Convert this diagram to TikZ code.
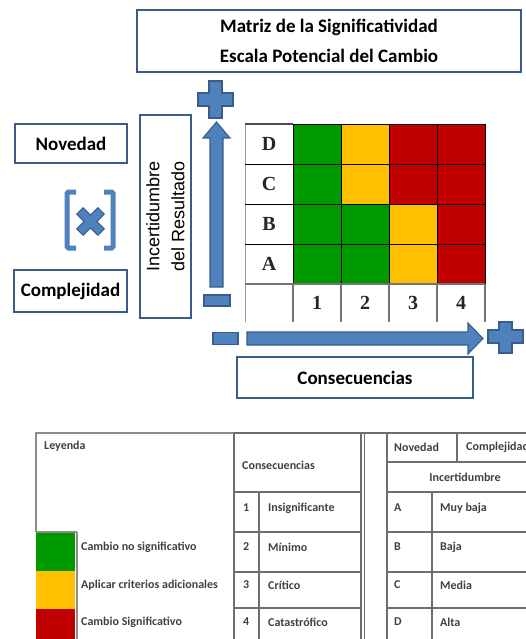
\documentclass[tikz,border=0pt]{standalone}
\usepackage{fontspec}
\setmainfont{Carlito}
\newfontfamily\axisfont{Liberation Sans}
\newfontfamily\gridfont{Liberation Serif}
\definecolor{boxblue}{RGB}{56,93,138}
\definecolor{shapeblue}{RGB}{79,129,189}
\definecolor{cgreen}{RGB}{0,153,0}
\definecolor{cyellow}{RGB}{255,192,0}
\definecolor{cred}{RGB}{192,0,0}
\definecolor{tblgray}{RGB}{110,110,110}

\begin{document}
\begin{tikzpicture}[x=1pt,y=-1pt,
  labelbox/.style={draw=boxblue, line width=2.6pt, fill=white, inner sep=0pt,
    font=\bfseries\fontsize{19}{30}\selectfont},
  blockshape/.style={fill=shapeblue, draw=boxblue, line width=1.1pt, line join=miter},
  cell/.style={minimum width=48pt, minimum height=40pt, inner sep=0pt, draw=black, line width=0.9pt},
  gridlabel/.style={inner sep=0pt, font=\gridfont\bfseries\fontsize{20}{22}\selectfont, text=black!85},
  tbl/.style={draw=tblgray, line width=1.5pt},
  tbltext/.style={inner sep=0pt, anchor=west, font=\bfseries\fontsize{12}{14}\selectfont, text=black!75},
]
\useasboundingbox (0,0) rectangle (526,639);
\clip (0,0) rectangle (526,639);

% ---------- title and side labels ----------
\node[labelbox, minimum width=384pt, minimum height=62pt, align=center]
  (title) at (329,41) {Matriz de la Significatividad\\Escala Potencial del Cambio};
\node[labelbox, minimum width=112pt, minimum height=39pt] (novedad) at (71,143.5) {Novedad};
\node[labelbox, minimum width=113pt, minimum height=42pt] (complejidad) at (70.5,291) {Complejidad};
\node[labelbox, minimum width=203pt, minimum height=51pt, rotate=90, align=center,
  font=\axisfont\fontsize{18}{25}\selectfont] (incert) at (165.5,216.5)
  {Incertidumbre\\del Resultado};
\node[labelbox, minimum width=236pt, minimum height=41pt] (conseq) at (355,377.5) {Consecuencias};

% ---------- bracketed multiplication sign ----------
\draw[shapeblue, line width=5pt, rounded corners=1.5pt]
  (76,192) -- (67,192) -- (67,248) -- (76,248);
\draw[shapeblue, line width=5pt, rounded corners=1.5pt]
  (104,192) -- (113,192) -- (113,248) -- (104,248);
\begin{scope}[shift={(90.5,221.5)}, rotate=45]
  \draw[blockshape] (-4.5,-15) -- (4.5,-15) -- (4.5,-4.5) -- (15,-4.5) -- (15,4.5) -- (4.5,4.5)
    -- (4.5,15) -- (-4.5,15) -- (-4.5,4.5) -- (-15,4.5) -- (-15,-4.5) -- (-4.5,-4.5) -- cycle;
\end{scope}

% ---------- axis arrows with plus and minus signs ----------
\draw[blockshape] (210,287) -- (210,138) -- (203,138) -- (216.5,122) -- (230,138)
  -- (223,138) -- (223,287) -- cycle;
\draw[blockshape] (247,332) -- (468,332) -- (468,323) -- (483,338.5) -- (468,354)
  -- (468,345) -- (247,345) -- cycle;
\draw[blockshape] (204,295) rectangle (230,306);
\draw[blockshape] (213,332.5) rectangle (238,344.5);
% plus signs
\draw[blockshape] (209,81) -- (222,81) -- (222,93) -- (233,93) -- (233,106) -- (222,106)
  -- (222,118) -- (209,118) -- (209,106) -- (198,106) -- (198,93) -- (209,93) -- cycle;
\draw[blockshape] (499,322) -- (512,322) -- (512,330) -- (523,330) -- (523,343) -- (512,343)
  -- (512,353) -- (499,353) -- (499,343) -- (488,343) -- (488,330) -- (499,330) -- cycle;

% ---------- significance matrix ----------
\foreach \r/\lab/\ca/\cb/\cc/\cd [count=\i from 0] in
    {D/D/cgreen/cyellow/cred/cred, C/C/cgreen/cyellow/cred/cred,
     B/B/cgreen/cgreen/cyellow/cred, A/A/cgreen/cgreen/cyellow/cred}{
  \node[gridlabel] (row-\r) at (269,144+40*\i) {\lab};
  \foreach \col/\c in {1/\ca, 2/\cb, 3/\cc, 4/\cd}{
    \node[cell, fill=\c] (m-\r-\col) at (269+48*\col,144+40*\i) {};
  }
}
\foreach \col in {1,2,3,4}{
  \node[gridlabel] (num-\col) at (269+48*\col,303) {\col};
}
% label column and number row borders
\draw[black!40, line width=0.6pt] (245,124) -- (245,322);
\draw[black!70, line width=1.2pt] (245,124) -- (293,124);
\foreach \yy in {164,204,244}{ \draw[black, line width=0.9pt] (245,\yy) -- (293,\yy); }
\draw[black!55, line width=1.6pt] (245,284) -- (485,284);
\foreach \xx in {293,341,389,437,485}{ \draw[black!55, line width=1.8pt] (\xx,284) -- (\xx,322); }

% ---------- legend table ----------
\fill[cgreen] (36,532) rectangle (75,571);
\fill[cyellow] (36,571) rectangle (75,609);
\fill[cred] (36,609) rectangle (75,639);
\draw[tbl, draw=black!45] (36,532) -- (36,433) -- (234,433);
\draw[tbl, draw=black!45] (36,532) -- (77,532);
\draw[tbl, draw=black!45] (77,532) -- (77,639);
\node[tbltext] (leyenda) at (44,446) {Leyenda};
\node[tbltext] (ley-g) at (81,547) {Cambio no significativo};
\node[tbltext] (ley-y) at (81,585) {Aplicar criterios adicionales};
\node[tbltext] (ley-r) at (81,622) {Cambio Significativo};

% ---------- consequence table ----------
\draw[tbl] (234,433) -- (526,433);
\draw[tbl] (234,433) -- (234,639);
\draw[tbl] (361,433) -- (361,639);
\draw[tbl] (364.5,433) -- (364.5,639);
\draw[tbl] (387,433) -- (387,639);
\foreach \yy in {492,532,572,608}{ \draw[tbl] (234,\yy) -- (361,\yy); }
\draw[tbl] (259,492) -- (259,639);
\node[tbltext] (c-head) at (242,465) {Consecuencias};
\foreach \n/\t/\yy in {1/Insignificante/508, 2/Mínimo/547, 3/Crítico/585, 4/Catastrófico/622}{
  \node[tbltext] (c-num-\n) at (243,\yy) {\n};
  \node[tbltext] (c-txt-\n) at (268,\yy) {\t};
}

% ---------- uncertainty table ----------
\draw[tbl] (457,433) -- (457,462);
\draw[tbl] (387,462) -- (526,462);
\foreach \yy in {492,532,572,608}{ \draw[tbl] (387,\yy) -- (526,\yy); }
\draw[tbl] (432,492) -- (432,639);
\node[tbltext] (u-nov) at (394,447) {Novedad};
\node[tbltext] (u-comp) at (466,447) {Complejidad};
\node[tbltext, anchor=center] (u-head) at (465,477) {Incertidumbre};
\foreach \n/\t/\yy in {A/Muy baja/508, B/Baja/547, C/Media/585, D/Alta/622}{
  \node[tbltext] (u-let-\n) at (394,\yy) {\n};
  \node[tbltext] (u-txt-\n) at (440,\yy) {\t};
}
\end{tikzpicture}
\end{document}
